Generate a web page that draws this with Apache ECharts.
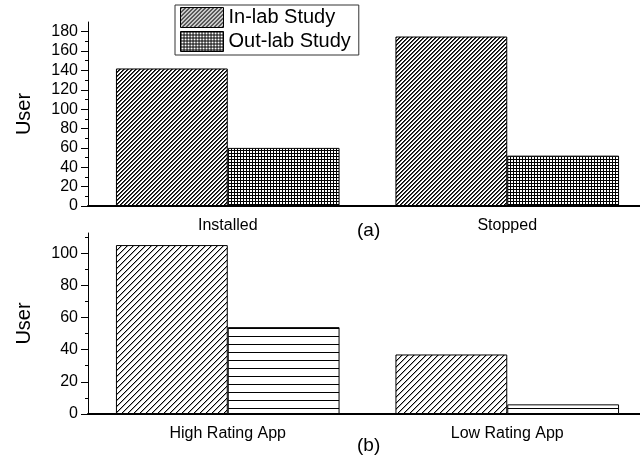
<!DOCTYPE html>
<html>
<head>
<meta charset="utf-8">
<script src="https://cdn.jsdelivr.net/npm/echarts@6/dist/echarts.min.js"></script>
<style>
  html, body { margin: 0; padding: 0; background: #fff; }
  #main { width: 640px; height: 460px; }
</style>
</head>
<body>
<div id="main"></div>
<script>
// data
const seriesNames = ['In-lab Study', 'Out-lab Study'];
const categoriesTop = ['Installed', 'Stopped'];
const inLabTop = [142, 175];
const outLabTop = [60, 52];
const categoriesBottom = ['High Rating App', 'Low Rating App'];
const inLabBottom = [105, 37];
const outLabBottom = [54, 6];
const yTicksTop = [0, 20, 40, 60, 80, 100, 120, 140, 160, 180];
const yMinorTop = [10, 30, 50, 70, 90, 110, 130, 150, 170];
const yTicksBottom = [0, 20, 40, 60, 80, 100];
const yMinorBottom = [10, 30, 50, 70, 90, 110];

const font = 'Liberation Sans, Arial, sans-serif';

// hatch fills as small canvas tiles
function makeTile(size, draw) {
  const c = document.createElement('canvas');
  c.width = size; c.height = size;
  const ctx = c.getContext('2d');
  ctx.fillStyle = '#fff';
  ctx.fillRect(0, 0, size, size);
  draw(ctx, size);
  return { image: c, repeat: 'repeat' };
}
// fine "/" lines
const fineDiag = makeTile(4, function (ctx, s) {
  for (let y = 0; y < s; y++) {
    for (let x = 0; x < s; x++) {
      const k = (x + y) % s;
      if (k === 0) { ctx.fillStyle = '#000'; ctx.fillRect(x, y, 1, 1); }
      if (k === 1) { ctx.fillStyle = '#444'; ctx.fillRect(x, y, 1, 1); }
    }
  }
});
// fine grid
const fineGrid = makeTile(3, function (ctx, s) {
  ctx.fillStyle = '#000';
  ctx.fillRect(0, 0, s, 1);
  ctx.fillRect(0, 0, 1, s);
});
// wider "/" lines
const wideDiag = makeTile(6, function (ctx, s) {
  for (let y = 0; y < s; y++) {
    for (let x = 0; x < s; x++) {
      const k = (x + y) % s;
      if (k === 0) { ctx.fillStyle = '#000'; ctx.fillRect(x, y, 1, 1); }
      if (k === 1) { ctx.fillStyle = '#aaa'; ctx.fillRect(x, y, 1, 1); }
    }
  }
});
// horizontal lines
const horiz = makeTile(8, function (ctx, s) {
  ctx.fillStyle = '#000';
  ctx.fillRect(0, 0, s, 1);
});

function yAxes(gridIndex, max, ticks, minor) {
  return [
    {
      type: 'value', gridIndex: gridIndex, min: 0, max: max,
      name: 'User', nameLocation: 'middle', nameGap: 54,
      nameTextStyle: { fontSize: 20, color: '#000', fontFamily: font },
      axisLine: { show: true, lineStyle: { color: '#000', width: 1 } },
      axisTick: { show: true, length: 7, customValues: ticks, lineStyle: { color: '#000' } },
      axisLabel: { customValues: ticks, fontSize: 16, color: '#000', fontFamily: font, margin: 10 },
      splitLine: { show: false }
    },
    {
      // minor ticks only
      type: 'value', gridIndex: gridIndex, min: 0, max: max, position: 'left',
      axisLine: { show: false },
      axisTick: { show: true, length: 3, customValues: minor, lineStyle: { color: '#000' } },
      axisLabel: { show: false },
      splitLine: { show: false }
    }
  ];
}

function xAxes(gridIndex, cats) {
  return [
    {
      type: 'category', gridIndex: gridIndex, data: cats,
      axisLine: { lineStyle: { color: '#000', width: 2 } },
      axisTick: { alignWithLabel: true, length: 7, lineStyle: { color: '#000' } },
      axisLabel: { fontSize: 16, color: '#000', fontFamily: font, margin: 12 }
    },
    {
      // short ticks between the groups
      type: 'category', gridIndex: gridIndex, data: cats, position: 'bottom',
      axisLine: { show: false },
      axisTick: { length: 3, lineStyle: { color: '#000' } },
      axisLabel: { show: false }
    }
  ];
}

const barBorder = { borderColor: '#000', borderWidth: 1 };

let chart = echarts.init(document.getElementById('main'), null, { renderer: 'canvas' });
chart.setOption({
  animation: false,
  backgroundColor: '#fff',
  legend: {
    orient: 'vertical', left: 175, top: 5,
    data: seriesNames,
    icon: 'rect', itemWidth: 43, itemHeight: 20, itemGap: 3,
    padding: [2, 8, 3, 5],
    borderColor: '#333', borderWidth: 1,
    textStyle: { fontSize: 20, color: '#000', fontFamily: font },
    itemStyle: { borderColor: '#000', borderWidth: 1 }
  },
  // axis runs off the right edge in the original, so let the grid go past it
  grid: [
    { left: 88, width: 559, top: 22, height: 184, outerBoundsMode: 'none', containLabel: false },
    { left: 88, width: 559, top: 233, height: 181, outerBoundsMode: 'none', containLabel: false }
  ],
  xAxis: xAxes(0, categoriesTop).concat(xAxes(1, categoriesBottom)),
  yAxis: yAxes(0, 190, yTicksTop, yMinorTop).concat(yAxes(1, 112.5, yTicksBottom, yMinorBottom)),
  graphic: [
    { type: 'text', left: 357, top: 221, style: { text: '(a)', fontSize: 19, fill: '#000', fontFamily: font } },
    { type: 'text', left: 357, top: 436, style: { text: '(b)', fontSize: 19, fill: '#000', fontFamily: font } }
  ],
  series: [
    {
      name: seriesNames[0], type: 'bar', xAxisIndex: 0, yAxisIndex: 0,
      barWidth: '40%', barGap: '0%',
      itemStyle: Object.assign({ color: fineDiag }, barBorder),
      data: inLabTop
    },
    {
      name: seriesNames[1], type: 'bar', xAxisIndex: 0, yAxisIndex: 0,
      barWidth: '40%', barGap: '0%',
      itemStyle: Object.assign({ color: fineGrid }, barBorder),
      data: outLabTop
    },
    {
      name: seriesNames[0], type: 'bar', xAxisIndex: 2, yAxisIndex: 2,
      barWidth: '40%', barGap: '0%',
      itemStyle: Object.assign({ color: wideDiag }, barBorder),
      data: inLabBottom
    },
    {
      name: seriesNames[1], type: 'bar', xAxisIndex: 2, yAxisIndex: 2,
      barWidth: '40%', barGap: '0%',
      itemStyle: Object.assign({ color: horiz }, barBorder),
      data: outLabBottom
    }
  ]
});
</script>
</body>
</html>
